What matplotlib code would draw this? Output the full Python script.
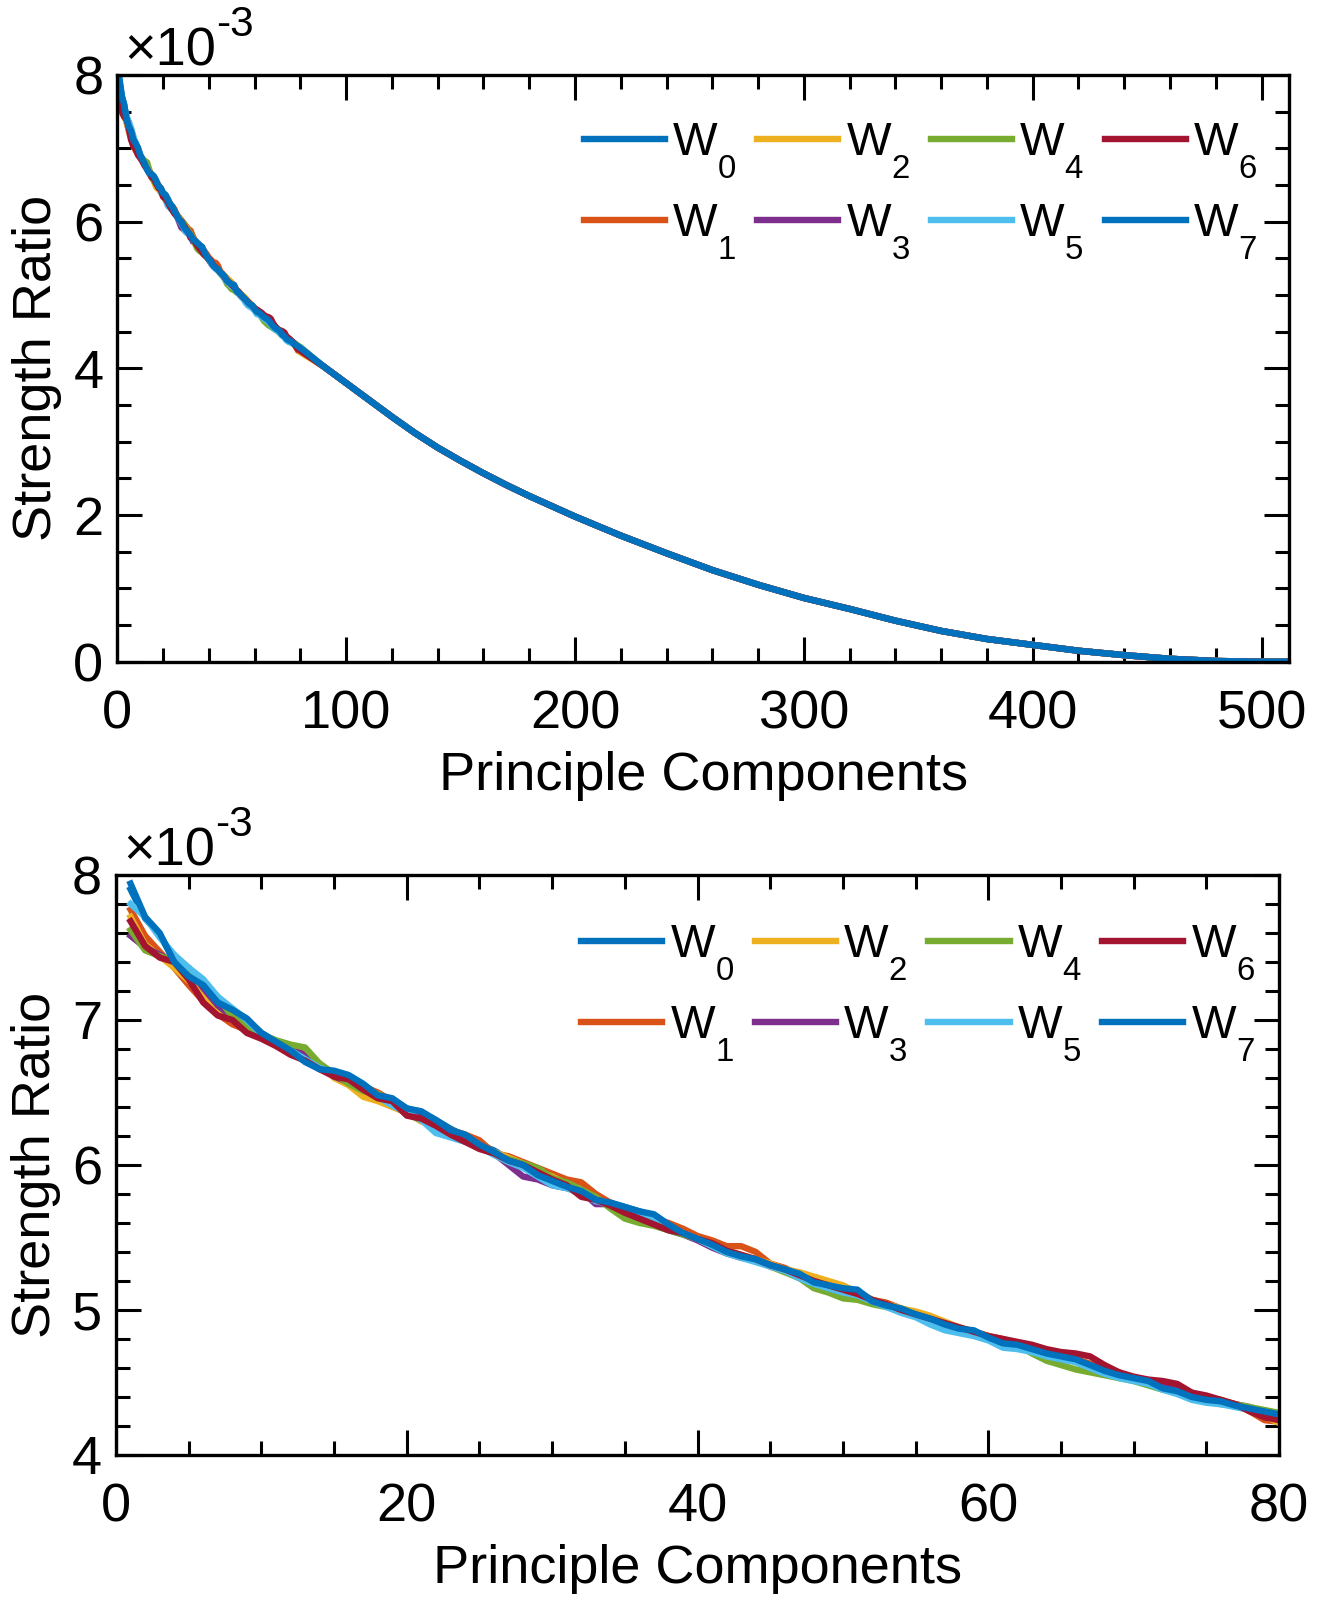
import numpy as np
import matplotlib
matplotlib.use("Agg")
import matplotlib.pyplot as plt
import matplotlib._mathtext as mathtext_internal
from matplotlib.ticker import MultipleLocator

plt.rcParams['font.family'] = ['Liberation Sans', 'DejaVu Sans']
plt.rcParams['mathtext.fontset'] = 'custom'
plt.rcParams['mathtext.rm'] = 'Liberation Sans'
plt.rcParams['mathtext.it'] = 'Liberation Sans:italic'
plt.rcParams['mathtext.default'] = 'regular'
# MATLAB drops its subscripts lower than mathtext does
mathtext_internal.FontConstantsBase.sub1 = 0.95
mathtext_internal.FontConstantsBase.script_space = 0.0

# principle components 1..80, values in 1e-3
pc_head = np.arange(1, 81)
w0 = [7.90, 7.70, 7.59, 7.41, 7.31, 7.23, 7.12, 7.06, 7.00, 6.91,
      6.85, 6.79, 6.72, 6.67, 6.64, 6.61, 6.55, 6.49, 6.45, 6.39,
      6.36, 6.31, 6.25, 6.20, 6.14, 6.10, 6.04, 6.00, 5.94, 5.89,
      5.85, 5.81, 5.77, 5.74, 5.71, 5.68, 5.65, 5.59, 5.54, 5.49,
      5.45, 5.41, 5.37, 5.35, 5.31, 5.28, 5.24, 5.20, 5.17, 5.15,
      5.13, 5.07, 5.03, 5.00, 4.97, 4.94, 4.90, 4.87, 4.85, 4.81,
      4.78, 4.76, 4.73, 4.70, 4.68, 4.65, 4.62, 4.58, 4.55, 4.53,
      4.50, 4.46, 4.44, 4.40, 4.38, 4.36, 4.34, 4.32, 4.30, 4.28]
w1 = [7.76, 7.58, 7.47, 7.36, 7.24, 7.13, 7.04, 6.97, 6.93, 6.89,
      6.84, 6.80, 6.74, 6.68, 6.62, 6.58, 6.54, 6.50, 6.44, 6.38,
      6.36, 6.30, 6.24, 6.21, 6.17, 6.08, 6.06, 6.02, 5.98, 5.94,
      5.90, 5.88, 5.80, 5.74, 5.70, 5.67, 5.63, 5.60, 5.56, 5.51,
      5.48, 5.44, 5.44, 5.40, 5.32, 5.29, 5.24, 5.20, 5.18, 5.14,
      5.11, 5.07, 5.05, 5.01, 4.98, 4.95, 4.91, 4.88, 4.85, 4.82,
      4.80, 4.77, 4.74, 4.71, 4.68, 4.66, 4.63, 4.60, 4.57, 4.53,
      4.51, 4.48, 4.45, 4.42, 4.40, 4.38, 4.35, 4.30, 4.24, 4.23]
w2 = [7.71, 7.52, 7.44, 7.36, 7.27, 7.18, 7.07, 7.00, 6.95, 6.90,
      6.85, 6.80, 6.77, 6.70, 6.60, 6.55, 6.47, 6.44, 6.40, 6.36,
      6.30, 6.28, 6.21, 6.16, 6.13, 6.09, 6.05, 6.01, 5.96, 5.92,
      5.87, 5.80, 5.76, 5.72, 5.66, 5.62, 5.60, 5.57, 5.53, 5.49,
      5.45, 5.41, 5.38, 5.35, 5.32, 5.28, 5.26, 5.23, 5.20, 5.17,
      5.12, 5.07, 5.04, 5.01, 4.99, 4.96, 4.92, 4.88, 4.85, 4.82,
      4.79, 4.76, 4.74, 4.71, 4.68, 4.64, 4.61, 4.57, 4.55, 4.52,
      4.50, 4.47, 4.46, 4.43, 4.39, 4.37, 4.34, 4.31, 4.27, 4.22]
w3 = [7.58, 7.50, 7.45, 7.40, 7.36, 7.22, 7.10, 7.02, 6.94, 6.89,
      6.85, 6.80, 6.76, 6.68, 6.61, 6.57, 6.52, 6.48, 6.43, 6.37,
      6.34, 6.28, 6.22, 6.18, 6.14, 6.08, 6.00, 5.92, 5.90, 5.86,
      5.84, 5.82, 5.73, 5.73, 5.68, 5.62, 5.59, 5.55, 5.52, 5.48,
      5.43, 5.39, 5.36, 5.34, 5.30, 5.27, 5.22, 5.18, 5.15, 5.12,
      5.10, 5.06, 5.03, 4.99, 4.96, 4.93, 4.90, 4.87, 4.84, 4.81,
      4.79, 4.77, 4.74, 4.71, 4.68, 4.65, 4.62, 4.59, 4.56, 4.53,
      4.50, 4.48, 4.45, 4.42, 4.39, 4.37, 4.35, 4.33, 4.29, 4.26]
w4 = [7.62, 7.48, 7.44, 7.41, 7.34, 7.25, 7.16, 7.02, 6.95, 6.90,
      6.86, 6.83, 6.81, 6.70, 6.63, 6.56, 6.51, 6.49, 6.43, 6.35,
      6.31, 6.26, 6.21, 6.18, 6.14, 6.07, 6.04, 6.01, 5.98, 5.91,
      5.88, 5.83, 5.78, 5.70, 5.63, 5.60, 5.58, 5.55, 5.52, 5.49,
      5.44, 5.40, 5.37, 5.35, 5.30, 5.26, 5.22, 5.15, 5.12, 5.08,
      5.07, 5.04, 5.02, 4.99, 4.96, 4.93, 4.89, 4.86, 4.84, 4.81,
      4.79, 4.76, 4.70, 4.65, 4.62, 4.59, 4.57, 4.55, 4.53, 4.51,
      4.48, 4.45, 4.43, 4.40, 4.37, 4.35, 4.35, 4.33, 4.31, 4.29]
w5 = [7.80, 7.71, 7.57, 7.45, 7.36, 7.28, 7.16, 7.08, 7.00, 6.90,
      6.84, 6.79, 6.73, 6.67, 6.63, 6.59, 6.53, 6.47, 6.41, 6.36,
      6.31, 6.22, 6.19, 6.16, 6.12, 6.07, 6.02, 5.98, 5.92, 5.86,
      5.84, 5.80, 5.75, 5.73, 5.70, 5.66, 5.63, 5.58, 5.53, 5.49,
      5.44, 5.39, 5.36, 5.33, 5.30, 5.27, 5.22, 5.18, 5.15, 5.12,
      5.10, 5.06, 5.02, 4.98, 4.95, 4.90, 4.86, 4.84, 4.82, 4.79,
      4.74, 4.73, 4.71, 4.68, 4.66, 4.64, 4.60, 4.56, 4.53, 4.51,
      4.49, 4.45, 4.42, 4.38, 4.36, 4.35, 4.33, 4.31, 4.29, 4.28]
w6 = [7.68, 7.51, 7.43, 7.40, 7.28, 7.12, 7.03, 7.00, 6.91, 6.87,
      6.82, 6.76, 6.72, 6.66, 6.61, 6.59, 6.52, 6.46, 6.44, 6.34,
      6.32, 6.27, 6.21, 6.16, 6.11, 6.08, 6.03, 6.00, 5.95, 5.90,
      5.86, 5.78, 5.76, 5.72, 5.67, 5.63, 5.59, 5.55, 5.53, 5.49,
      5.46, 5.41, 5.38, 5.35, 5.31, 5.28, 5.24, 5.20, 5.17, 5.14,
      5.11, 5.07, 5.04, 5.00, 4.97, 4.94, 4.91, 4.88, 4.85, 4.82,
      4.80, 4.78, 4.76, 4.73, 4.71, 4.70, 4.68, 4.62, 4.57, 4.54,
      4.52, 4.51, 4.49, 4.43, 4.41, 4.38, 4.35, 4.30, 4.26, 4.24]
w7 = [7.94, 7.71, 7.60, 7.40, 7.30, 7.24, 7.12, 7.07, 7.01, 6.91,
      6.85, 6.79, 6.71, 6.66, 6.65, 6.62, 6.56, 6.48, 6.46, 6.39,
      6.37, 6.31, 6.24, 6.21, 6.14, 6.09, 6.03, 6.00, 5.93, 5.89,
      5.85, 5.82, 5.76, 5.74, 5.71, 5.68, 5.66, 5.59, 5.53, 5.49,
      5.45, 5.40, 5.37, 5.35, 5.31, 5.28, 5.25, 5.19, 5.17, 5.15,
      5.14, 5.06, 5.03, 5.01, 4.97, 4.94, 4.90, 4.87, 4.86, 4.81,
      4.77, 4.76, 4.73, 4.70, 4.68, 4.66, 4.62, 4.58, 4.55, 4.53,
      4.51, 4.46, 4.44, 4.40, 4.38, 4.37, 4.34, 4.32, 4.30, 4.28]

# remaining components up to 512 (all series overlap here)
pc_tail = [90, 100, 110, 120, 130, 140, 150, 160, 170, 180, 190, 200,
           220, 240, 260, 280, 300, 320, 340, 360, 380, 400, 420, 440,
           460, 480, 500, 512]
tail = [4.03, 3.80, 3.57, 3.34, 3.12, 2.92, 2.74, 2.57, 2.41, 2.26, 2.12, 1.98,
        1.72, 1.48, 1.25, 1.05, 0.87, 0.72, 0.56, 0.42, 0.31, 0.23, 0.15, 0.09,
        0.04, 0.01, 0.0, 0.0]

series = [w0, w1, w2, w3, w4, w5, w6, w7]
labels = ['W$_0$', 'W$_1$', 'W$_2$', 'W$_3$', 'W$_4$', 'W$_5$', 'W$_6$', 'W$_7$']
colors = ['#0072BD', '#D95319', '#EDB120', '#7E2F8E', '#77AC30', '#4DBEEE', '#A2142F', '#0072BD']

FS = 39
LEG_FS = 34
LW = 4.6

fig = plt.figure(figsize=(13.2, 15.98), dpi=100)
ax1 = fig.add_axes([0.0889, 0.5859, 0.8876, 0.3671])
ax2 = fig.add_axes([0.0879, 0.0895, 0.8811, 0.3630])

pc_full = np.concatenate([pc_head, pc_tail])
for vals, lab, c in zip(series, labels, colors):
    ax1.plot(pc_full, np.concatenate([vals, tail]), color=c, lw=LW, label=lab)
    ax2.plot(pc_head, vals, color=c, lw=LW, label=lab)


def style(ax, xlim, ylim, xmaj, xmin, ymaj, ymin, leg_anchor):
    ax.set_xlim(*xlim)
    ax.set_ylim(*ylim)
    ax.xaxis.set_major_locator(MultipleLocator(xmaj))
    ax.xaxis.set_minor_locator(MultipleLocator(xmin))
    ax.yaxis.set_major_locator(MultipleLocator(ymaj))
    ax.yaxis.set_minor_locator(MultipleLocator(ymin))
    ax.tick_params(which='both', direction='in', top=True, right=True,
                   width=2.2, labelsize=FS)
    ax.tick_params(which='major', length=18)
    ax.tick_params(which='minor', length=10)
    ax.tick_params(axis='x', which='major', pad=20)
    ax.tick_params(axis='y', which='major', pad=10)
    for s in ax.spines.values():
        s.set_linewidth(2.4)
    ax.set_xlabel('Principle Components', fontsize=FS, labelpad=8)
    ax.set_ylabel('Strength Ratio', fontsize=FS, labelpad=8)
    base = ax.annotate('×10', xy=(0, 1), xycoords='axes fraction',
                       xytext=(5, -1), textcoords='offset points',
                       fontsize=FS, ha='left', va='bottom')
    ax.annotate('-3', xy=(1, 0.62), xycoords=base, xytext=(0, 0),
                textcoords='offset points', fontsize=FS * 0.78,
                ha='left', va='bottom')
    ax.legend(ncol=4, loc='upper left', bbox_to_anchor=leg_anchor,
              frameon=False, fontsize=LEG_FS, handlelength=1.72,
              handletextpad=0.15, columnspacing=0.45, labelspacing=0.45,
              borderaxespad=0.0, borderpad=0.0)


style(ax1, (0, 512), (0, 8), 100, 20, 2, 0.5, (0.398, 0.921))
style(ax2, (0, 80), (4, 8), 20, 5, 1, 0.2, (0.400, 0.917))

fig.savefig('out.png', dpi=100)
